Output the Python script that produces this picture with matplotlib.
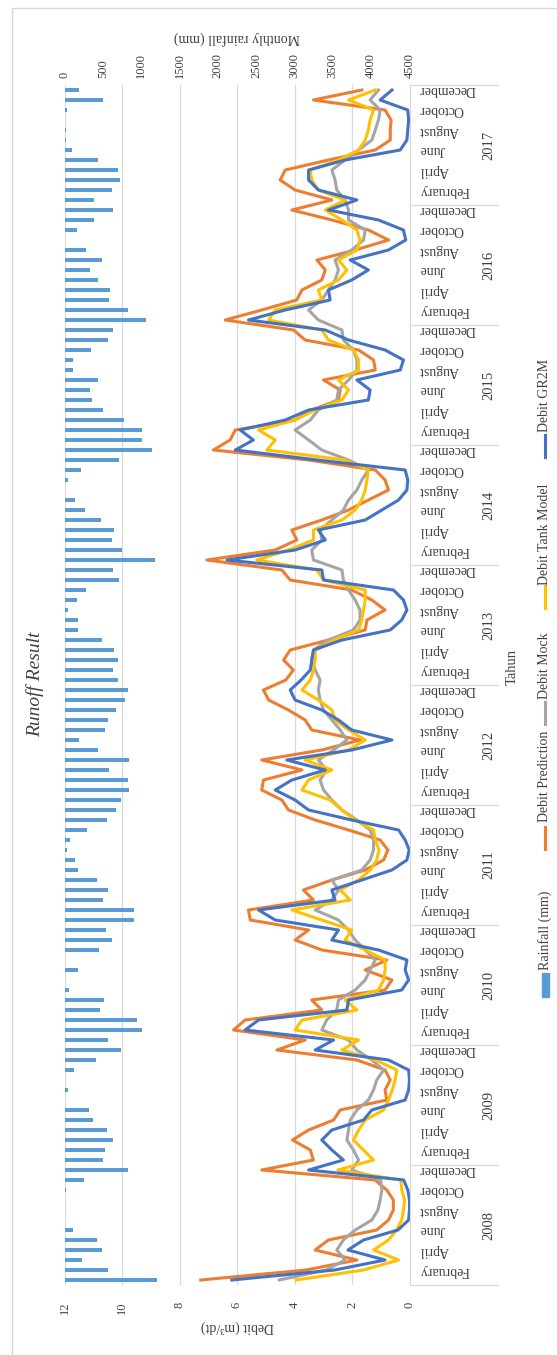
import numpy as np
import matplotlib.pyplot as plt
from matplotlib.lines import Line2D
from matplotlib.patches import Rectangle

plt.rcParams['font.family'] = ['Liberation Serif', 'DejaVu Serif']
plt.rcParams['text.color'] = '#404040'
plt.rcParams['xtick.color'] = '#404040'
plt.rcParams['ytick.color'] = '#404040'
plt.rcParams['axes.labelcolor'] = '#404040'

# Data (Jan 2008 .. Dec 2017), read per year
years = [2008, 2009, 2010, 2011, 2012, 2013, 2014, 2015, 2016, 2017]
month_names = ['January', 'February', 'March', 'April', 'May', 'June', 'July',
               'August', 'September', 'October', 'November', 'December']

rainfall = [
    1204, 561, 226, 491, 422, 109, 8, 5, 5, 22, 257, 822,
    504, 530, 630, 548, 374, 326, 8, 52, 10, 126, 417, 739,
    561, 1017, 943, 457, 513, 61, 5, 170, 9, 448, 622, 539,
    909, 913, 496, 565, 422, 174, 139, 30, 74, 291, 552, 678,
    735, 835, 826, 574, 835, 443, 183, 522, 561, 670, 791, 826,
    696, 635, 696, 652, 483, 174, 174, 52, 165, 278, 713, 635,
    1174, 752, 617, 643, 474, 270, 139, 3, 52, 213, 713, 1135,
    1017, 1009, 770, 504, 357, 330, 443, 109, 117, 348, 561, 639,
    1061, 826, 574, 587, 435, 339, 491, 283, 9, 161, 391, 630,
    391, 622, 722, 696, 443, 96, 17, 17, 9, 30, 500, 191,
]

debit_prediction = [
    7.26, 3.6, 1.83, 3.28, 2.82, 1.14, 0.73, 0.56, 0.56, 0.79, 1.2, 5.14,
    3.34, 3.45, 4.07, 3.51, 2.64, 2.41, 0.79, 0.85, 0.67, 0.85, 1.83, 4.61,
    3.63, 6.12, 5.72, 3.05, 3.40, 0.85, 0.61, 1.54, 0.79, 3.05, 3.98, 3.51,
    5.54, 5.60, 3.34, 3.69, 2.70, 1.54, 0.90, 0.75, 1.02, 2.12, 3.28, 4.21,
    4.44, 5.14, 5.08, 3.74, 5.14, 3.05, 1.72, 3.40, 3.63, 4.21, 4.90, 5.08,
    4.30, 4.04, 4.38, 4.15, 2.82, 1.54, 1.48, 0.85, 1.31, 2.01, 4.15, 4.44,
    7.05, 4.67, 3.92, 4.09, 3.05, 2.12, 1.43, 0.73, 0.85, 1.19, 3.51, 6.82,
    6.24, 6.06, 3.98, 3.40, 2.47, 2.41, 2.99, 1.19, 1.25, 1.77, 3.63, 4.03,
    6.41, 5.14, 3.92, 3.74, 3.05, 2.93, 3.22, 1.89, 0.73, 1.43, 2.70, 4.09,
    2.70, 3.98, 4.50, 4.32, 2.82, 1.19, 0.67, 0.67, 0.64, 0.85, 3.34, 1.66,
]

debit_mock = [
    4.53, 2.9, 2.24, 2.53, 2.3, 1.89, 1.31, 1.1, 1.02, 0.96, 1.0, 2.01,
    1.77, 1.95, 2.18, 2.12, 2.06, 1.83, 1.43, 1.25, 1.14, 0.90, 1.31, 1.83,
    2.12, 3.05, 2.88, 2.53, 2.47, 1.89, 1.54, 1.37, 1.19, 1.54, 1.89, 2.12,
    2.47, 3.28, 2.70, 2.47, 2.70, 1.66, 1.37, 1.25, 1.25, 1.37, 1.83, 2.35,
    2.70, 2.99, 3.11, 2.88, 3.17, 2.64, 2.18, 2.41, 2.70, 2.99, 3.11, 3.17,
    3.11, 3.28, 3.40, 3.34, 2.82, 1.95, 1.72, 1.72, 1.89, 2.12, 2.30, 2.35,
    3.34, 3.40, 3.05, 3.11, 2.70, 2.30, 2.12, 1.83, 1.66, 1.43, 2.12, 3.05,
    3.51, 3.98, 3.45, 3.17, 2.53, 2.47, 2.12, 1.83, 1.83, 1.95, 2.30, 2.35,
    3.17, 3.51, 3.05, 2.82, 2.59, 2.47, 2.59, 2.01, 1.60, 1.54, 2.12, 2.12,
    2.24, 2.53, 2.59, 2.70, 2.24, 1.77, 1.31, 1.19, 1.08, 1.02, 1.37, 1.08,
]

debit_tank = [
    3.94, 1.6, 0.38, 1.25, 0.73, 0.45, 0.27, 0.21, 0.17, 0.27, 0.3, 2.49,
    1.25, 1.6, 1.95, 1.77, 1.54, 0.90, 0.73, 0.6, 0.5, 0.44, 1.19, 2.35,
    1.77, 3.98, 3.74, 1.83, 2.24, 1.08, 0.90, 0.85, 0.85, 1.54, 2.24, 2.01,
    3.05, 4.09, 2.06, 2.41, 1.77, 1.37, 1.14, 1.06, 1.19, 1.25, 1.89, 2.35,
    2.76, 3.74, 3.51, 2.70, 3.63, 2.12, 1.54, 2.12, 2.59, 2.70, 3.17, 3.74,
    3.45, 3.34, 3.28, 3.28, 2.64, 1.77, 1.66, 1.60, 1.54, 1.54, 2.99, 3.22,
    5.31, 4.21, 3.34, 3.34, 2.35, 1.89, 1.66, 1.54, 1.48, 1.43, 2.24, 4.96,
    4.67, 5.25, 3.98, 3.28, 2.35, 2.12, 2.47, 1.77, 1.77, 1.95, 2.82, 3.05,
    4.90, 4.67, 3.05, 3.17, 2.47, 2.18, 2.47, 1.83, 1.72, 1.83, 2.35, 2.93,
    2.24, 3.17, 3.40, 3.45, 2.47, 1.77, 1.54, 1.43, 1.37, 1.25, 2.12, 1.19,
]

debit_gr2m = [
    6.18, 2.6, 0.85, 2.14, 1.6, 0.4, 0.03, 0.0, 0.0, 0.06, 0.2, 3.51,
    2.30, 2.7, 3.05, 2.70, 1.60, 1.31, 0.15, 0.03, 0.0, 0.03, 0.73, 3.28,
    2.64, 5.72, 5.25, 2.18, 2.12, 0.27, 0.03, 0.15, 0.09, 1.08, 2.70, 2.47,
    4.67, 5.25, 2.59, 2.70, 1.66, 0.61, 0.09, 0.01, 0.15, 0.38, 2.01, 3.51,
    3.98, 4.67, 4.09, 2.93, 4.27, 2.01, 0.61, 2.01, 2.47, 3.05, 3.98, 4.15,
    3.77, 3.45, 3.40, 3.34, 2.35, 0.67, 0.27, 0.09, 0.21, 0.56, 2.99, 3.05,
    6.35, 3.98, 2.93, 3.17, 1.54, 0.96, 0.38, 0.09, 0.06, 0.15, 3.2, 6.06,
    5.43, 5.89, 4.32, 3.51, 1.43, 1.37, 1.83, 0.32, 0.21, 0.85, 2.12, 2.93,
    5.60, 4.32, 2.76, 2.82, 2.01, 1.43, 2.06, 0.73, 0.13, 0.21, 1.08, 2.82,
    1.83, 3.17, 3.51, 3.51, 2.24, 0.32, 0.09, 0.06, 0.03, 0.06, 1.02, 0.61,
]

months = np.arange(len(rainfall))

# Kolorer (Excel-palett)
c_rain = '#5B9BD5'
c_pred = '#ED7D31'
c_mock = '#A5A5A5'
c_tank = '#FFC000'
c_gr2m = '#4472C4'
c_grid = '#D9D9D9'

W, H = 557, 1355
fig = plt.figure(figsize=(W / 100, H / 100), dpi=100)

def fx(px):
    return px / W

def fy(py):
    return 1 - py / H

# ramme rundt figuren
fig.add_artist(Rectangle((fx(12), fy(H + 5)), fx(W), fy(8) - fy(H + 5),
                         transform=fig.transFigure, fill=False,
                         edgecolor=c_grid, lw=1))

ax = fig.add_axes([fx(64.5), fy(1285), fx(345), 1200 / H])
ax.set_xlim(12, 0)
ax.set_ylim(-0.5, len(months) - 0.5)

ax.plot(debit_prediction, months, color=c_pred, lw=2.2, label="Debit Prediction")
ax.plot(debit_mock, months, color=c_mock, lw=2.2, label="Debit Mock")
ax.plot(debit_tank, months, color=c_tank, lw=2.2, label="Debit Tank Model")
ax.plot(debit_gr2m, months, color=c_gr2m, lw=2.2, label="Debit GR2M")

ax.set_xticks(range(0, 13, 2))
ax.grid(axis='x', color=c_grid, lw=0.9)
ax.set_axisbelow(True)
for s in ['top', 'bottom', 'left']:
    ax.spines[s].set_visible(False)
ax.spines['right'].set_color(c_grid)
ax.tick_params(axis='x', length=0, pad=12, labelsize=9, labelrotation=90)
ax.set_xlabel("Debit (m³/dt)", rotation=180, fontsize=10, labelpad=4)

# månedsetiketter på høyre side
label_idx = [m for m in months if m % 12 in (1, 3, 5, 7, 9, 11)]
ax.yaxis.tick_right()
ax.set_yticks(label_idx)
ax.set_yticklabels([month_names[m % 12] for m in label_idx], rotation=180,
                   fontsize=10, ha='left', va='center')
ax.tick_params(axis='y', length=0, pad=7)

# årsskiller og årstall
ytr = ax.get_yaxis_transform()
ax.hlines(np.arange(-0.5, len(months), 12), 1, 1 + 88 / 345, transform=ytr,
          color=c_grid, lw=0.9, clip_on=False)
for k, yr in enumerate(years):
    ax.text(1 + 79 / 345, 12 * k + 5.5, str(yr), transform=ytr, rotation=90,
            ha='center', va='center', fontsize=10.5)
fig.text(fx(512), fy(667), "Tahun", rotation=90, ha='center', va='center', fontsize=10.5)

# nedbør på sekundær akse
ax2 = ax.twiny()
ax2.barh(months, rainfall, height=0.45, color=c_rain)
ax2.set_xlim(0, 4500)
ax2.set_xticks(range(0, 4501, 500))
for s in ax2.spines.values():
    s.set_visible(False)
ax2.tick_params(axis='x', length=0, pad=5, labelsize=9, labelrotation=90)
ax2.set_xlabel("Monthly rainfall (mm)", rotation=180, fontsize=10, labelpad=8)

fig.text(fx(35), fy(684), "Runoff Result", rotation=90, ha='center', va='center',
         fontsize=14, style='italic', color='#404040')

# tegnforklaring (rotert)
legend_items = [
    ("Rainfall (mm)", c_rain, 985, 970, 'patch'),
    ("Debit Prediction", c_pred, 838, 822, 'line'),
    ("Debit Mock", c_mock, 713, 699, 'line'),
    ("Debit Tank Model", c_tank, 597, 585, 'line'),
    ("Debit GR2M", c_gr2m, 446, 432, 'line'),
]
for text, col, ymark, ytext, kind in legend_items:
    if kind == 'patch':
        fig.add_artist(Rectangle((fx(542), fy(ymark + 12)), fx(7), fy(ymark - 12) - fy(ymark + 12),
                                 transform=fig.transFigure, color=col))
    else:
        fig.add_artist(Line2D([fx(545), fx(545)], [fy(ymark + 11), fy(ymark - 11)],
                              transform=fig.transFigure, color=col, lw=2.2))
    fig.text(fx(545), fy(ytext), text, rotation=90, ha='center', va='bottom',
             fontsize=10)

fig.savefig("out.png", dpi=100)
